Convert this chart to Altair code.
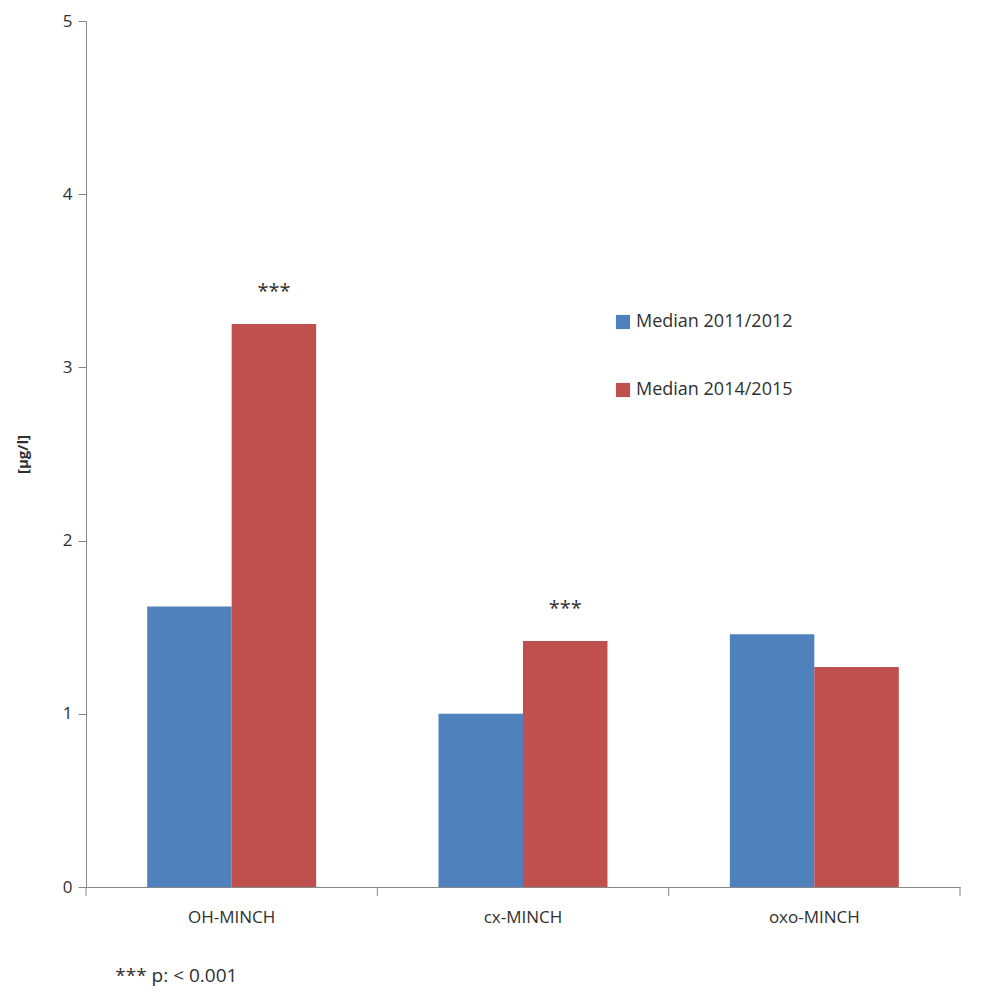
import altair as alt
import pandas as pd

categories = ["OH-MINCH", "cx-MINCH", "oxo-MINCH"]
series = ["Median 2011/2012", "Median 2014/2015"]
v2011 = [1.62, 1.00, 1.46]
v2014 = [3.25, 1.42, 1.27]
stars = ["***", "***", ""]
dividers = [0, 1, 2, 3]

rows = []
for i, c in enumerate(categories):
    rows.append({"cat": c, "series": series[0], "value": v2011[i], "star": ""})
    rows.append({"cat": c, "series": series[1], "value": v2014[i], "star": stars[i]})
df = pd.DataFrame(rows)
F = "Open Sans"
W, H = 874, 866

xs = alt.Scale(domain=categories, paddingInner=0.42, paddingOuter=0.21)
x = alt.X("cat:N", scale=xs, sort=categories, title=None,
          axis=alt.Axis(ticks=False, labelAngle=0, labelFont=F, labelFontSize=17,
                        labelColor="#303030", labelPadding=22, domainColor="#888"))
y = alt.Y("value:Q", scale=alt.Scale(domain=[0, 5]), title="[µg/l]",
          axis=alt.Axis(values=[0, 1, 2, 3, 4, 5], grid=False, tickSize=8, tickColor="#888",
                        domainColor="#888", labelFont=F, labelFontSize=17, labelColor="#303030",
                        labelPadding=6, titleFont=F, titleFontSize=15, titleFontWeight="bold",
                        titlePadding=32, titleColor="#303030"))
color = alt.Color("series:N", scale=alt.Scale(domain=series, range=["#4f81bd", "#c0504d"]),
                  legend=alt.Legend(title=None, orient="none", legendX=528, legendY=292,
                                    symbolType="square", symbolSize=200, labelFont=F,
                                    labelFontSize=18, labelColor="#303030", rowPadding=50,
                                    symbolStrokeWidth=0))

bars = alt.Chart(df).mark_bar().encode(x=x, xOffset=alt.XOffset("series:N", sort=series),
                                       y=y, color=color)
txt = alt.Chart(df).mark_text(dy=-32, font=F, fontSize=20, color="#303030").encode(
    x=x, xOffset=alt.XOffset("series:N", sort=series), y=y, text="star:N")
main = alt.layer(bars, txt)
divs = alt.Chart(pd.DataFrame({"d": dividers})).mark_rule(color="#888").encode(
    x=alt.X("d:Q", scale=alt.Scale(domain=[0, 3]), axis=None),
    y=alt.value(H), y2=alt.value(H + 9))

chart = alt.layer(main, divs).resolve_scale(x="independent").properties(
    width=W, height=H,
    title=alt.TitleParams("*** p: < 0.001", orient="bottom", anchor="start", font=F,
                          fontSize=19, fontWeight="normal", color="#303030", offset=42, dx=100)
).configure(padding={"left": 7, "top": 4, "right": 2, "bottom": 2}
).configure_view(stroke=None, strokeWidth=0)

chart.save("out.html", embed_options={"renderer": "svg", "actions": False})
